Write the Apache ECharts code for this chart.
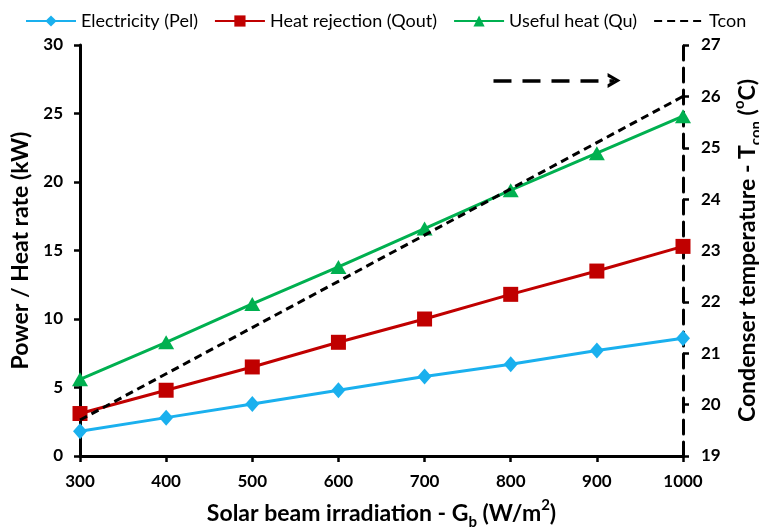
<!DOCTYPE html>
<html>
<head>
<meta charset="utf-8">
<script src="https://cdn.jsdelivr.net/npm/echarts@6/dist/echarts.min.js"></script>
<style>
  html, body { margin: 0; padding: 0; background: #fff; }
  #chart { width: 759px; height: 531px; }
</style>
</head>
<body>
<div id="chart"></div>
<script>
// Solar beam irradiation levels (W/m2)
const irradiation = [300, 400, 500, 600, 700, 800, 900, 1000];
// Power / heat rates (kW)
const electricity = [1.8, 2.8, 3.8, 4.8, 5.8, 6.7, 7.7, 8.6];
const heatRejection = [3.1, 4.8, 6.5, 8.3, 10.0, 11.8, 13.5, 15.3];
const usefulHeat = [5.6, 8.3, 11.1, 13.8, 16.6, 19.4, 22.1, 24.8];
// Condenser temperature (°C)
const tcon = [19.7, 20.6, 21.5, 22.4, 23.3, 24.2, 25.1, 26.0];

const FONT = 'Lato';

function pairs(xs, ys) {
  return xs.map((x, i) => [x, ys[i]]);
}

const chart = echarts.init(document.getElementById('chart'));

const axisText = { color: '#000', fontFamily: FONT, fontWeight: 'bold', fontSize: 17 };
const titleRich = {
  a: { fontFamily: FONT, fontWeight: 'bold', fontSize: 23, lineHeight: 32, color: '#000' },
  sub: { fontFamily: FONT, fontWeight: 'bold', fontSize: 15, lineHeight: 15, verticalAlign: 'bottom', color: '#000' },
  sup: { fontFamily: FONT, fontWeight: 'bold', fontSize: 15, lineHeight: 15, verticalAlign: 'top', color: '#000' }
};
const tickStyle = { show: true, length: 6, lineStyle: { color: '#000', width: 2.5 } };

chart.setOption({
  animation: false,
  backgroundColor: '#fff',
  legend: {
    top: 7,
    left: 20,
    itemWidth: 50,
    itemHeight: 14,
    itemGap: 16,
    textStyle: { fontFamily: FONT, fontSize: 18, color: '#000' },
    data: [
      'Electricity (Pel)',
      'Heat rejection (Qout)',
      'Useful heat (Qu)',
      { name: 'Tcon', itemStyle: { opacity: 0 } }
    ]
  },
  grid: { left: 80, right: 76, top: 45, bottom: 75, outerBoundsMode: 'none', containLabel: false },
  xAxis: {
    type: 'value',
    min: 300,
    max: 1000,
    interval: 100,
    splitLine: { show: false },
    axisLine: { lineStyle: { color: '#000', width: 3 } },
    axisTick: tickStyle,
    axisLabel: Object.assign({ margin: 17, formatter: v => String(v) }, axisText),
    name: '{a|Solar beam irradiation - G}{sub|b}{a| (W/m}{sup|2}{a|)}',
    nameLocation: 'middle',
    nameGap: 42,
    nameTextStyle: { rich: titleRich }
  },
  yAxis: [
    {
      type: 'value',
      min: 0,
      max: 30,
      interval: 5,
      splitLine: { show: false },
      axisLine: { show: true, lineStyle: { color: '#000', width: 3 } },
      axisTick: tickStyle,
      axisLabel: Object.assign({ margin: 17 }, axisText),
      name: '{a|Power / Heat rate (kW)}',
      nameLocation: 'middle',
      nameRotate: 90,
      nameGap: 42,
      nameTextStyle: { rich: titleRich }
    },
    {
      type: 'value',
      position: 'right',
      min: 19,
      max: 27,
      interval: 1,
      splitLine: { show: false },
      axisLine: { show: true, lineStyle: { color: '#000', width: 3, type: [14, 8] } },
      axisTick: tickStyle,
      axisLabel: Object.assign({ margin: 18 }, axisText),
      name: '{a|Condenser temperature - T}{sub|con}{a| (}{sup|o}{a|C)}',
      nameLocation: 'middle',
      nameRotate: 90,
      nameGap: 46,
      nameTextStyle: { rich: titleRich }
    }
  ],
  series: [
    {
      name: 'Electricity (Pel)',
      type: 'line',
      data: pairs(irradiation, electricity),
      color: '#1AB0EE',
      symbol: 'diamond',
      symbolSize: [14, 16],
      lineStyle: { width: 3 },
      z: 3
    },
    {
      name: 'Heat rejection (Qout)',
      type: 'line',
      data: pairs(irradiation, heatRejection),
      color: '#C00000',
      symbol: 'rect',
      symbolSize: 15,
      lineStyle: { width: 3 },
      z: 3
    },
    {
      name: 'Useful heat (Qu)',
      type: 'line',
      data: pairs(irradiation, usefulHeat),
      color: '#00B050',
      symbol: 'triangle',
      symbolSize: [16, 14],
      lineStyle: { width: 3 },
      z: 3
    },
    {
      name: 'Tcon',
      type: 'line',
      yAxisIndex: 1,
      data: pairs(irradiation, tcon),
      color: '#000',
      symbol: 'none',
      lineStyle: { width: 3, type: [8, 5] },
      z: 4,
      markLine: {
        silent: true,
        symbol: ['none', 'path://M0,12 L7,0 L14,12 L10.5,12 L7,5.5 L3.5,12 Z'],
        symbolSize: [15, 13],
        label: { show: false },
        lineStyle: { color: '#000', width: 3.5, type: [18, 11] },
        data: [[{ coord: [780, 26.31] }, { coord: [920, 26.31] }]]
      }
    }
  ]
});
</script>
</body>
</html>
